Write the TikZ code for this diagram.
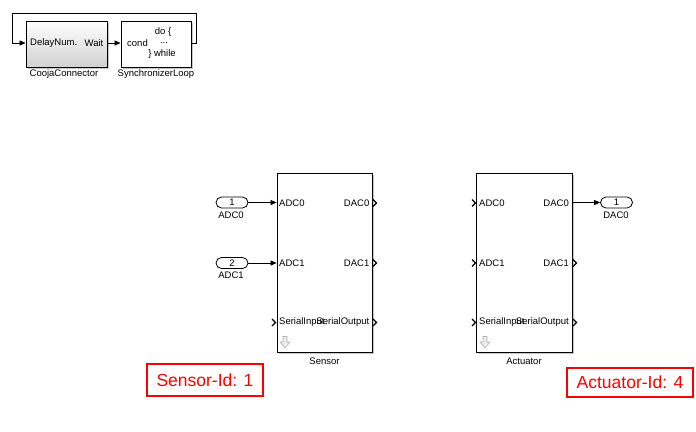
\documentclass[tikz,border=0pt]{standalone}
\usepackage{fontspec}
\setmainfont{Liberation Sans}
\usetikzlibrary{arrows.meta,shapes.misc}
\tikzset{
  txt/.style={font=\fontsize{9.5}{10}\selectfont, inner sep=0pt},
  blk/.style={draw=black, line width=0.8pt, fill=white, inner sep=0pt},
  shadowbox/.style={fill=black!22, draw=none},
  arr/.style={line width=0.7pt, -{Triangle[length=6pt,width=5pt]}},
  wire/.style={line width=0.7pt},
  chev/.style={line width=1.1pt, line join=miter},
  portoval/.style={draw=black, line width=0.8pt, rounded rectangle, minimum width=32pt, minimum height=11pt, inner sep=0pt, font=\fontsize{9.5}{10}\selectfont, fill=white},
  idbox/.style={draw=red, line width=2pt, text=red, font=\fontsize{17.5}{19}\selectfont, inner sep=0pt},
}
\begin{document}
\begin{tikzpicture}[x=1pt,y=-1pt]
\useasboundingbox (0,0) rectangle (696,431);
% --- top-left blocks ---
\fill[shadowbox] (28,23) rectangle (109,69);
\fill[shadowbox] (123,23) rectangle (193,69);
\node[blk, minimum width=81pt, minimum height=46pt, top color=white, bottom color=black!18] (cooja) at (66.5,44) {};
\node[blk, minimum width=70pt, minimum height=46pt] (sync) at (156,44) {};
\node[txt, anchor=west] at (30,43) {DelayNum.};
\node[txt, anchor=east] at (103.5,43) {Wait};
\node[txt] at (163,32) {do \{};
\node[txt, anchor=west] at (127,43.5) {cond};
\node[txt] at (164,42.5) {...};
\node[txt] at (162,54) {\} while};
\node[txt] (lcooja) at (64,74.5) {CoojaConnector};
\node[txt] (lsync) at (156,74.5) {SynchronizerLoop};
\coordinate (lpR) at (196,13);
\coordinate (lpL) at (12,13);
\draw[arr] (cooja.east |- 0,43) -- (sync.west |- 0,43);
\draw[arr] (sync.east |- 0,43) -- (lpR |- 0,43) -- (lpR) -- (lpL) -- (lpL |- 0,43) -- (cooja.west |- 0,43);
% --- Sensor block ---
\fill[shadowbox] (279,175) rectangle (374,354);
\node[blk, minimum width=95pt, minimum height=179pt] (sensor) at (324.5,262.5) {};
\node[txt, anchor=west] at (279,203) {ADC0};
\node[txt, anchor=east] at (369.5,203) {DAC0};
\node[txt, anchor=west] at (279,263) {ADC1};
\node[txt, anchor=east] at (369.5,263) {DAC1};
\node[txt, anchor=west] at (279,322.5) {SerialInput};
\node[txt, anchor=east] at (369.5,322.5) {SerialOutput};
\node[txt] (lsensor) at (324.5,361.5) {Sensor};
% --- Actuator block ---
\fill[shadowbox] (478,175) rectangle (574,354);
\node[blk, minimum width=96pt, minimum height=179pt] (act) at (524,262.5) {};
\node[txt, anchor=west] at (479,203) {ADC0};
\node[txt, anchor=east] at (569,203) {DAC0};
\node[txt, anchor=west] at (479,263) {ADC1};
\node[txt, anchor=east] at (569,263) {DAC1};
\node[txt, anchor=west] at (479,322.5) {SerialInput};
\node[txt, anchor=east] at (569,322.5) {SerialOutput};
\node[txt] (lact) at (524,361.5) {Actuator};
% --- open-port chevrons ---
\foreach \y in {322.5} {
  \draw[chev] (272,\y-3.5) -- (275.5,\y) -- (272,\y+3.5);
}
\foreach \y in {203,263,322.5} {
  \draw[chev] (373,\y-3.5) -- (376.5,\y) -- (373,\y+3.5);
  \draw[chev] (472,\y-3.5) -- (475.5,\y) -- (472,\y+3.5);
}
\foreach \y in {263,322.5} {
  \draw[chev] (573,\y-3.5) -- (576.5,\y) -- (573,\y+3.5);
}
% --- gray down arrows ---
\foreach \x in {285,485} {
  \draw[black!30, fill=black!8, line width=0.6pt] (\x-2,336.5) -- (\x+2,336.5) -- (\x+2,342) -- (\x+5,342) -- (\x,348) -- (\x-5,342) -- (\x-2,342) -- cycle;
}
% --- inports / outport ---
\node[portoval] (in1) at (232,202.5) {1};
\node[txt] at (231,215) {ADC0};
\node[portoval] (in2) at (232,263) {2};
\node[txt] at (231,275.5) {ADC1};
\node[portoval] (out1) at (616.5,202.5) {1};
\node[txt] at (616,215) {DAC0};
\draw[arr] (in1.east) -- (sensor.west |- in1.east);
\draw[arr] (in2.east) -- (sensor.west |- in2.east);
\draw[arr] (act.east |- out1.west) -- (out1.west);
% --- id labels ---
\node[idbox, minimum width=116pt, minimum height=32pt] (sid) at (205,380) {Sensor-Id: 1};
\node[idbox, minimum width=126pt, minimum height=29pt] (aid) at (630,382.5) {Actuator-Id: 4};
\end{tikzpicture}
\end{document}
